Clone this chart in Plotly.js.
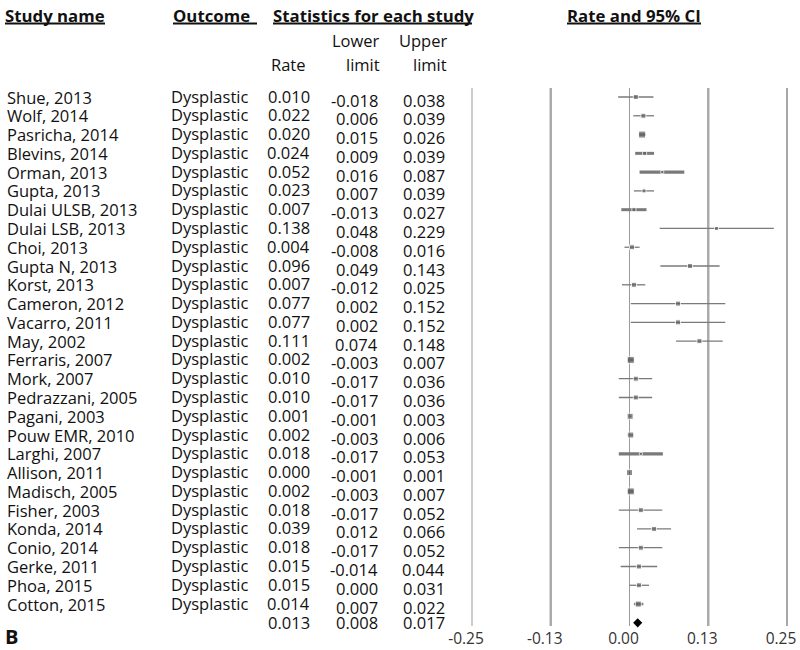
<!DOCTYPE html>
<html>
<head>
<meta charset="utf-8">
<script src="https://cdn.plot.ly/plotly-3.0.1.min.js"></script>
<style>html,body{margin:0;padding:0;background:#fff;overflow:hidden;width:800px;height:650px;}#chart{width:800px;height:650px;}</style>
</head>
<body>
<div id="chart"></div>
<script>
// ---- data ----
const studies = ["Shue, 2013","Wolf, 2014","Pasricha, 2014","Blevins, 2014","Orman, 2013","Gupta, 2013","Dulai ULSB, 2013","Dulai LSB, 2013","Choi, 2013","Gupta N, 2013","Korst, 2013","Cameron, 2012","Vacarro, 2011","May, 2002","Ferraris, 2007","Mork, 2007","Pedrazzani, 2005","Pagani, 2003","Pouw EMR, 2010","Larghi, 2007","Allison, 2011","Madisch, 2005","Fisher, 2003","Konda, 2014","Conio, 2014","Gerke, 2011","Phoa, 2015","Cotton, 2015"];
const outcome = "Dysplastic";
const rate  = [0.010,0.022,0.020,0.024,0.052,0.023,0.007,0.138,0.004,0.096,0.007,0.077,0.077,0.111,0.002,0.010,0.010,0.001,0.002,0.018,0.000,0.002,0.018,0.039,0.018,0.015,0.015,0.014];
const lower = [-0.018,0.006,0.015,0.009,0.016,0.007,-0.013,0.048,-0.008,0.049,-0.012,0.002,0.002,0.074,-0.003,-0.017,-0.017,-0.001,-0.003,-0.017,-0.001,-0.003,-0.017,0.012,-0.017,-0.014,0.000,0.007];
const upper = [0.038,0.039,0.026,0.039,0.087,0.039,0.027,0.229,0.016,0.143,0.025,0.152,0.152,0.148,0.007,0.036,0.036,0.003,0.006,0.053,0.001,0.007,0.052,0.066,0.052,0.044,0.031,0.022];
const summaryRate = 0.013, summaryLower = 0.008, summaryUpper = 0.017;
const tickVals = [-0.25,-0.125,0,0.125,0.25];
const tickText = ["-0.25","-0.13","0.00","0.13","0.25"];

// ---- styles (kept separate from data) ----
const markerPx = [5,5,7,4,3,4,4,4,5,5,5,5,5,5,7,5,5,6,6,3,6,7,5,5,5,5,5,6];
const linePx   = [1.3,1.3,2.5,3,3.2,1.3,3,1.3,1.3,1.3,1.3,1.3,1.3,1.3,3,1.3,1.3,1.5,1.5,3.2,1.5,3,1.3,1.3,1.3,1.3,1.3,2.5];
const gridW = [1.5,2.5,1,2.5,2];
const gridC = ["#bdbdbd","#ababab","#9a9a9a","#ababab","#a8a8a8"];

const W = 800, H = 650;
const px = v => v / W;
const py = v => 1 - v / H;
const FONT = "Open Sans, Noto Sans, sans-serif";
const BODY = 16.5;
const ROW0 = 97, ROWH = 18.78;           // pixel of first row, row pitch
const rowOf = p => (p - ROW0) / ROWH;    // pixel -> row units

const traces = [];
tickVals.forEach((v, k) => {
  traces.push({x:[v, v], y:[rowOf(88), rowOf(626)], mode:"lines", type:"scatter",
    line:{color:gridC[k], width:gridW[k]}, hoverinfo:"skip", showlegend:false});
});
studies.forEach((s, i) => {
  traces.push({x:[lower[i], upper[i]], y:[i, i], mode:"lines", type:"scatter",
    line:{color:"#7a7a7a", width:linePx[i]}, hoverinfo:"skip", showlegend:false});
});
traces.push({x: rate, y: studies.map((s,i)=>i), mode:"markers", type:"scatter",
  marker:{symbol:"square", size: markerPx, color:"#5e5e5e"}, showlegend:false, cliponaxis:false});
const sumRow = studies.length;
traces.push({x:[summaryRate], y:[sumRow], mode:"markers", type:"scatter",
  marker:{symbol:"diamond", size:7, color:"#000"}, showlegend:false, cliponaxis:false});

const ann = [];
const txt = (text, x, y, xanchor, opts={}) => Object.assign({
  text, x, y, xref:"paper", yref:"y", xanchor, yanchor:"middle", showarrow:false,
  font:{family:FONT, size:BODY, color:"#111"}}, opts);
const fmt = v => v.toFixed(3);
studies.forEach((s, i) => {
  ann.push(txt(s, px(5), i, "left"));
  ann.push(txt(outcome, px(169), i, "left", {yshift:1}));
  ann.push(txt(fmt(rate[i]), px(312), i, "right", {yshift:1}));
  ann.push(txt(fmt(lower[i]), px(380), i, "right", {yshift:-3}));
  ann.push(txt(fmt(upper[i]), px(447), i, "right", {yshift:-3}));
});
ann.push(txt(fmt(summaryRate), px(312), sumRow, "right"));
ann.push(txt(fmt(summaryLower), px(380), sumRow, "right"));
ann.push(txt(fmt(summaryUpper), px(447), sumRow, "right"));

const hdr = (text, x, y, xanchor, bold, size) => ({
  text: bold ? "<b>"+text+"</b>" : text, x:px(x), y:py(y), xref:"paper", yref:"paper",
  xanchor, yanchor:"middle", showarrow:false, font:{family:FONT, size:size||BODY, color:"#111"}});
ann.push(hdr("Study name", 3, 15.5, "left", true, 16.8));
ann.push(hdr("Outcome", 171, 15.5, "left", true, 16.8));
ann.push(hdr("Statistics for each study", 271, 15.5, "left", true, 16.8));
ann.push(hdr("Rate and 95% CI", 634, 15.5, "center", true, 16.8));
ann.push(hdr("Lower", 382, 41, "right", false));
ann.push(hdr("Upper", 449, 41, "right", false));
ann.push(hdr("Rate", 308, 64, "right", false));
ann.push(hdr("limit", 382, 64, "right", false));
ann.push(hdr("limit", 449, 64, "right", false));
ann.push(hdr("B", 3, 636, "left", true, 20));

const shapes = [];
// right-hand reference line repeated as a shape as well (visible even if trace is clipped)
shapes.push({type:"line", xref:"x", yref:"paper", x0:tickVals[4], x1:tickVals[4], y0:py(626), y1:py(88),
  line:{color:gridC[4], width:gridW[4]}});
[[5,105],[173,257],[273,472],[567,701]].forEach(([a,b]) => {
  shapes.push({type:"line", xref:"paper", yref:"paper", x0:px(a), x1:px(b), y0:py(23.5), y1:py(23.5),
    line:{color:"#111", width:2}});
});

// x scale: -0.25 at 472px, +0.25 at 787px
const x0px = 452, x1px = 800, zeroPx = 629.5, unitPx = 630;
const layout = {
  width:W, height:H, margin:{l:0,r:0,t:0,b:0}, paper_bgcolor:"#fff", plot_bgcolor:"#fff",
  showlegend:false,
  xaxis:{domain:[px(x0px), px(x1px)], range:[(x0px-zeroPx)/unitPx, (x1px-zeroPx)/unitPx],
    tickvals:tickVals, ticktext:tickText, ticklabeloverflow:"allow", ticklabelshift:-6,
    showgrid:false, zeroline:false, showline:false, ticks:"", anchor:"free", position:py(627),
    tickfont:{family:FONT, size:15.5, color:"#333"}},
  yaxis:{domain:[0,1], range:[(H-ROW0)/ROWH, -ROW0/ROWH], visible:false},
  annotations: ann, shapes: shapes
};
Plotly.newPlot("chart", traces, layout, {displayModeBar:false, staticPlot:true});
</script>
</body>
</html>
